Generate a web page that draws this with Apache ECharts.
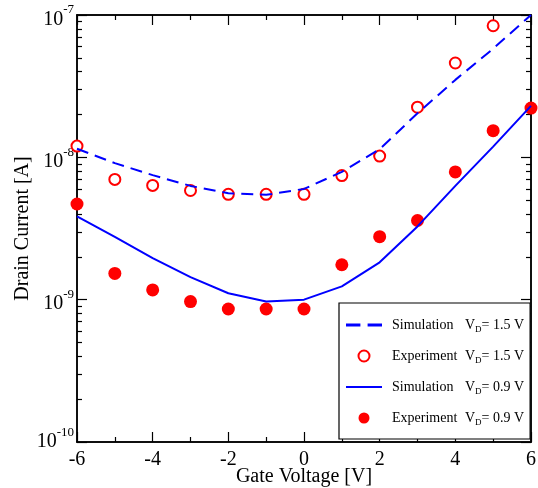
<!DOCTYPE html>
<html>
<head>
<meta charset="utf-8">
<script src="https://cdn.jsdelivr.net/npm/echarts@6/dist/echarts.min.js"></script>
<style>
html, body { margin: 0; padding: 0; background: #fff; }
#main { width: 538px; height: 488px; }
</style>
</head>
<body>
<div id="main"></div>
<script>
var gateVoltage = [-6, -5, -4, -3, -2, -1, 0, 1, 2, 3, 4, 5, 6];
// V_D = 1.5 V
var simHigh = [1.15e-8, 9.1e-9, 7.5e-9, 6.3e-9, 5.6e-9, 5.45e-9, 6.0e-9, 7.9e-9, 1.14e-8, 2.04e-8, 3.5e-8, 5.8e-8, 1.0e-7];
var expHigh = [1.2e-8, 7.0e-9, 6.35e-9, 5.85e-9, 5.5e-9, 5.5e-9, 5.5e-9, 7.45e-9, 1.02e-8, 2.25e-8, 4.6e-8, 8.4e-8, null];
// V_D = 0.9 V
var simLow = [3.85e-9, 2.76e-9, 1.96e-9, 1.44e-9, 1.11e-9, 9.7e-10, 1.0e-9, 1.24e-9, 1.83e-9, 3.27e-9, 6.3e-9, 1.19e-8, 2.3e-8];
var expLow = [4.7e-9, 1.53e-9, 1.17e-9, 9.7e-10, 8.6e-10, 8.6e-10, 8.6e-10, 1.76e-9, 2.77e-9, 3.6e-9, 7.9e-9, 1.54e-8, 2.22e-8];

var seriesNames = ['Simulation 1.5', 'Experiment 1.5', 'Simulation 0.9', 'Experiment 0.9'];
var legendLabels = {
	'Simulation 1.5': ['Simulation', '= 1.5 V'],
	'Experiment 1.5': ['Experiment', '= 1.5 V'],
	'Simulation 0.9': ['Simulation', '= 0.9 V'],
	'Experiment 0.9': ['Experiment', '= 0.9 V']
};
var xMajor = [-6, -4, -2, 0, 2, 4, 6];
var xMinor = [-5, -3, -1, 1, 3, 5];
var decades = [-10, -9, -8, -7];

var FONT = 'Liberation Serif';

function pairs(ys) {
	var out = [];
	for (var i = 0; i < gateVoltage.length; i++) {
		if (ys[i] != null) out.push([gateVoltage[i], ys[i]]);
	}
	return out;
}

// minor tick positions on the log axis (2..9 x 10^n), in log10 units
var yMinorLog = [];
decades.slice(0, 3).forEach(function(e) {
	for (var k = 2; k <= 9; k++) yMinorLog.push(e + Math.log10(k));
});

var black = { color: '#000', width: 1.5 };

function tickAxisX(pos, values, len) {
	return {
		type: 'value', position: pos, min: -6, max: 6,
		axisLine: { show: true, onZero: false, lineStyle: black },
		axisTick: { show: true, inside: true, length: len, customValues: values, lineStyle: { color: '#000', width: 1.2 } },
		axisLabel: { show: false },
		splitLine: { show: false }
	};
}
function tickAxisY(pos, values, len) {
	return {
		type: 'value', position: pos, min: -10, max: -7,
		axisLine: { show: true, onZero: false, lineStyle: black },
		axisTick: { show: true, inside: true, length: len, customValues: values, lineStyle: { color: '#000', width: 1.2 } },
		axisLabel: { show: false },
		splitLine: { show: false }
	};
}

// legend icons: dashed and solid line segments
var dashIcon = 'path://M0,0H12V2.4H0Z M18,0H30V2.4H18Z';
var lineIcon = 'path://M0,0H36V2H0Z';

var myChart = echarts.init(document.getElementById('main'));
var option = {
	animation: false,
	backgroundColor: '#fff',
	grid: { left: 77, right: 7, top: 15, bottom: 46, outerBoundsMode: 'none', containLabel: false },
	legend: {
		orient: 'vertical',
		left: 339, top: 303,
		backgroundColor: '#fff',
		borderColor: '#000',
		borderWidth: 1.2,
		borderRadius: 0,
		padding: [15, 6, 12, 7],
		itemGap: 15,
		itemWidth: 36,
		itemHeight: 11,
		symbolKeepAspect: true,
		data: [
			{ name: seriesNames[0], icon: dashIcon },
			{ name: seriesNames[1], icon: 'circle' },
			{ name: seriesNames[2], icon: lineIcon },
			{ name: seriesNames[3], icon: 'circle' }
		],
		formatter: function(name) {
			var p = legendLabels[name];
			return '{a|' + p[0] + '}{v|V}{d|D}{v|' + p[1] + '}';
		},
		textStyle: {
			padding: [0, 0, 0, 5],
			rich: {
				a: { fontFamily: FONT, fontSize: 14, color: '#000', width: 73 },
				v: { fontFamily: FONT, fontSize: 14, color: '#000' },
				d: { fontFamily: FONT, fontSize: 9, color: '#000', padding: [9, 0, 0, 0] }
			}
		}
	},
	xAxis: [
		{
			type: 'value', position: 'bottom', min: -6, max: 6, interval: 2,
			axisLine: { show: true, onZero: false, lineStyle: black },
			axisTick: { show: true, inside: true, length: 10, lineStyle: { color: '#000', width: 1.2 } },
			axisLabel: { color: '#000', fontFamily: FONT, fontSize: 20, margin: 8 },
			splitLine: { show: false },
			name: 'Gate Voltage [V]', nameLocation: 'middle', nameGap: 25, nameMoveOverlap: false,
			nameTextStyle: { color: '#000', fontFamily: FONT, fontSize: 20 }
		},
		tickAxisX('bottom', xMinor, 5),
		tickAxisX('top', xMajor, 10),
		tickAxisX('top', xMinor, 5)
	],
	yAxis: [
		{
			type: 'log', logBase: 10, min: 1e-10, max: 1e-7, position: 'left',
			axisLine: { show: true, onZero: false, lineStyle: black },
			axisTick: { show: true, inside: true, length: 10, lineStyle: { color: '#000', width: 1.2 } },
			axisLabel: {
				margin: 3,
				formatter: function(v) {
					var e = Math.round(Math.log10(v));
					if (e === -10) return '{b2|10}{s2|' + e + '}';
					return '{b|10}{s|' + e + '}';
				},
				rich: {
					b: { fontFamily: FONT, fontSize: 20, color: '#000', padding: [9, 0, 0, 0] },
					s: { fontFamily: FONT, fontSize: 13, color: '#000', padding: [0, 0, 10, 0] },
					b2: { fontFamily: FONT, fontSize: 20, color: '#000', padding: [0, 0, 0, 0] },
					s2: { fontFamily: FONT, fontSize: 13, color: '#000', padding: [0, 0, 18, 0] }
				}
			},
			splitLine: { show: false },
			name: 'Drain Current [A]', nameLocation: 'middle', nameGap: 44, nameMoveOverlap: false,
			nameTextStyle: { color: '#000', fontFamily: FONT, fontSize: 20 }
		},
		tickAxisY('left', yMinorLog, 5),
		tickAxisY('right', decades, 10),
		tickAxisY('right', yMinorLog, 5)
	],
	series: [
		{
			name: seriesNames[0], type: 'line', data: pairs(simHigh),
			symbol: 'none', itemStyle: { color: '#0000ff' },
			lineStyle: { color: '#0000ff', width: 2, type: [12, 7] }
		},
		{
			name: seriesNames[1], type: 'scatter', data: pairs(expHigh),
			symbol: 'circle', symbolSize: 11,
			itemStyle: { color: '#fff', borderColor: '#ff0000', borderWidth: 2, opacity: 1 }
		},
		{
			name: seriesNames[2], type: 'line', data: pairs(simLow),
			symbol: 'none', itemStyle: { color: '#0000ff' },
			lineStyle: { color: '#0000ff', width: 2 }
		},
		{
			name: seriesNames[3], type: 'scatter', data: pairs(expLow),
			symbol: 'circle', symbolSize: 13,
			itemStyle: { color: '#ff0000', opacity: 1 }
		}
	]
};
myChart.setOption(option);
</script>
</body>
</html>
